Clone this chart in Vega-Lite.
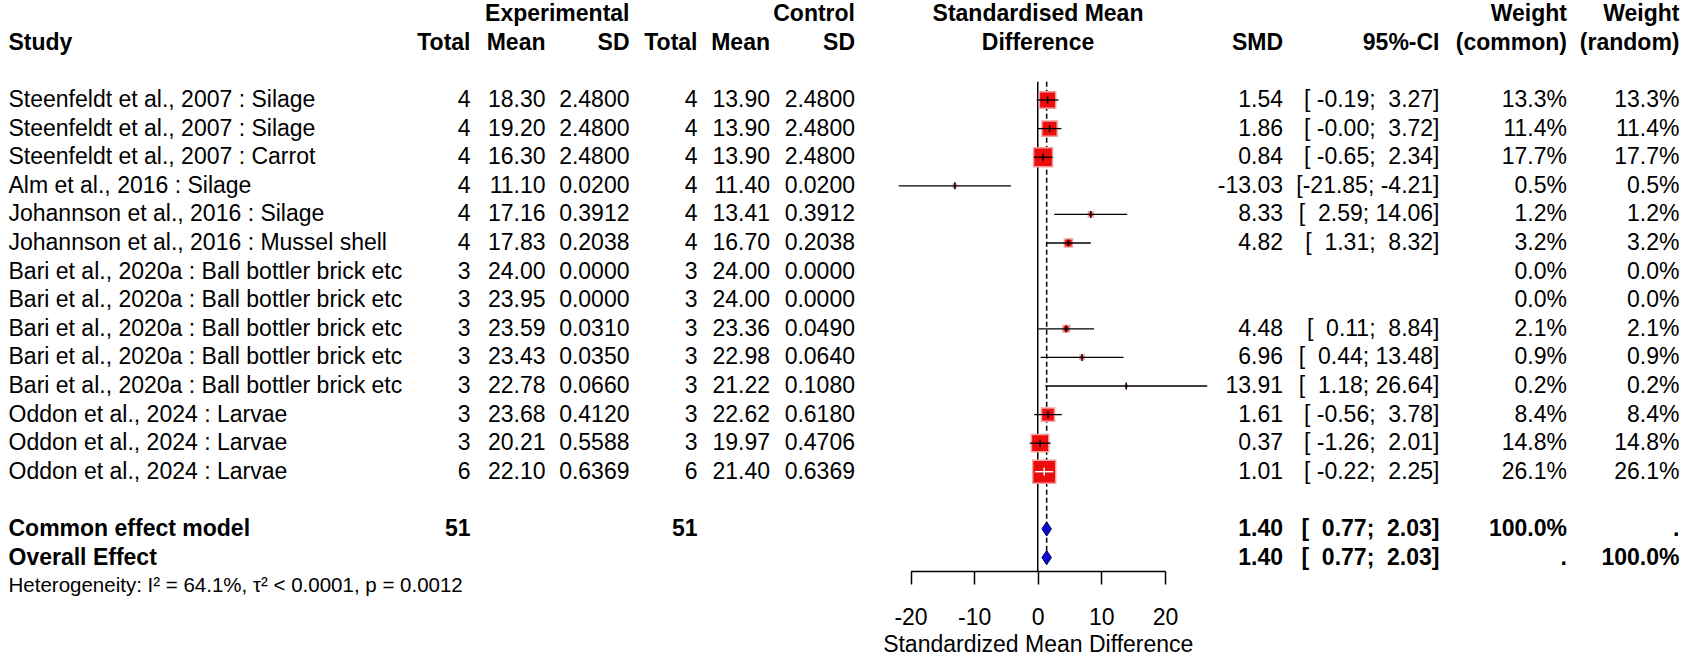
{
  "$schema": "https://vega.github.io/schema/vega-lite/v6.json",
  "width": 1686,
  "height": 656,
  "padding": 0,
  "autosize": {"type": "none"},
  "background": "white",
  "config": {
    "view": {"stroke": null},
    "font": "Liberation Sans",
    "text": {"font": "Liberation Sans", "fontSize": 23, "baseline": "middle", "color": "#000"}
  },
  "datasets": {
    "studies": [
      {"row": 1, "study": "Steenfeldt et al., 2007 : Silage", "eN": "4", "eM": "18.30", "eSD": "2.4800", "cN": "4", "cM": "13.90", "cSD": "2.4800", "smd": "1.54", "ci": "[\u00a0-0.19;\u00a0\u00a03.27]", "wcT": "13.3%", "wrT": "13.3%", "est": 1.54, "lo": -0.19, "hi": 3.27, "w": 0.133},
      {"row": 2, "study": "Steenfeldt et al., 2007 : Silage", "eN": "4", "eM": "19.20", "eSD": "2.4800", "cN": "4", "cM": "13.90", "cSD": "2.4800", "smd": "1.86", "ci": "[\u00a0-0.00;\u00a0\u00a03.72]", "wcT": "11.4%", "wrT": "11.4%", "est": 1.86, "lo": -0.0, "hi": 3.72, "w": 0.114},
      {"row": 3, "study": "Steenfeldt et al., 2007 : Carrot", "eN": "4", "eM": "16.30", "eSD": "2.4800", "cN": "4", "cM": "13.90", "cSD": "2.4800", "smd": "0.84", "ci": "[\u00a0-0.65;\u00a0\u00a02.34]", "wcT": "17.7%", "wrT": "17.7%", "est": 0.84, "lo": -0.65, "hi": 2.34, "w": 0.177},
      {"row": 4, "study": "Alm et al., 2016 : Silage", "eN": "4", "eM": "11.10", "eSD": "0.0200", "cN": "4", "cM": "11.40", "cSD": "0.0200", "smd": "-13.03", "ci": "[-21.85;\u00a0-4.21]", "wcT": "0.5%", "wrT": "0.5%", "est": -13.03, "lo": -21.85, "hi": -4.21, "w": 0.005},
      {"row": 5, "study": "Johannson et al., 2016 : Silage", "eN": "4", "eM": "17.16", "eSD": "0.3912", "cN": "4", "cM": "13.41", "cSD": "0.3912", "smd": "8.33", "ci": "[\u00a0\u00a02.59;\u00a014.06]", "wcT": "1.2%", "wrT": "1.2%", "est": 8.33, "lo": 2.59, "hi": 14.06, "w": 0.012},
      {"row": 6, "study": "Johannson et al., 2016 : Mussel shell", "eN": "4", "eM": "17.83", "eSD": "0.2038", "cN": "4", "cM": "16.70", "cSD": "0.2038", "smd": "4.82", "ci": "[\u00a0\u00a01.31;\u00a0\u00a08.32]", "wcT": "3.2%", "wrT": "3.2%", "est": 4.82, "lo": 1.31, "hi": 8.32, "w": 0.032},
      {"row": 7, "study": "Bari et al., 2020a : Ball bottler brick etc", "eN": "3", "eM": "24.00", "eSD": "0.0000", "cN": "3", "cM": "24.00", "cSD": "0.0000", "smd": "", "ci": "", "wcT": "0.0%", "wrT": "0.0%", "est": null, "lo": null, "hi": null, "w": 0},
      {"row": 8, "study": "Bari et al., 2020a : Ball bottler brick etc", "eN": "3", "eM": "23.95", "eSD": "0.0000", "cN": "3", "cM": "24.00", "cSD": "0.0000", "smd": "", "ci": "", "wcT": "0.0%", "wrT": "0.0%", "est": null, "lo": null, "hi": null, "w": 0},
      {"row": 9, "study": "Bari et al., 2020a : Ball bottler brick etc", "eN": "3", "eM": "23.59", "eSD": "0.0310", "cN": "3", "cM": "23.36", "cSD": "0.0490", "smd": "4.48", "ci": "[\u00a0\u00a00.11;\u00a0\u00a08.84]", "wcT": "2.1%", "wrT": "2.1%", "est": 4.48, "lo": 0.11, "hi": 8.84, "w": 0.021},
      {"row": 10, "study": "Bari et al., 2020a : Ball bottler brick etc", "eN": "3", "eM": "23.43", "eSD": "0.0350", "cN": "3", "cM": "22.98", "cSD": "0.0640", "smd": "6.96", "ci": "[\u00a0\u00a00.44;\u00a013.48]", "wcT": "0.9%", "wrT": "0.9%", "est": 6.96, "lo": 0.44, "hi": 13.48, "w": 0.009},
      {"row": 11, "study": "Bari et al., 2020a : Ball bottler brick etc", "eN": "3", "eM": "22.78", "eSD": "0.0660", "cN": "3", "cM": "21.22", "cSD": "0.1080", "smd": "13.91", "ci": "[\u00a0\u00a01.18;\u00a026.64]", "wcT": "0.2%", "wrT": "0.2%", "est": 13.91, "lo": 1.18, "hi": 26.64, "w": 0.002},
      {"row": 12, "study": "Oddon et al., 2024 : Larvae", "eN": "3", "eM": "23.68", "eSD": "0.4120", "cN": "3", "cM": "22.62", "cSD": "0.6180", "smd": "1.61", "ci": "[\u00a0-0.56;\u00a0\u00a03.78]", "wcT": "8.4%", "wrT": "8.4%", "est": 1.61, "lo": -0.56, "hi": 3.78, "w": 0.084},
      {"row": 13, "study": "Oddon et al., 2024 : Larvae", "eN": "3", "eM": "20.21", "eSD": "0.5588", "cN": "3", "cM": "19.97", "cSD": "0.4706", "smd": "0.37", "ci": "[\u00a0-1.26;\u00a0\u00a02.01]", "wcT": "14.8%", "wrT": "14.8%", "est": 0.37, "lo": -1.26, "hi": 2.01, "w": 0.148},
      {"row": 14, "study": "Oddon et al., 2024 : Larvae", "eN": "6", "eM": "22.10", "eSD": "0.6369", "cN": "6", "cM": "21.40", "cSD": "0.6369", "smd": "1.01", "ci": "[\u00a0-0.22;\u00a0\u00a02.25]", "wcT": "26.1%", "wrT": "26.1%", "est": 1.01, "lo": -0.22, "hi": 2.25, "w": 0.261}
    ],
    "summary": [
      {"row": 16, "study": "Common effect model", "eN": "51", "cN": "51", "smd": "1.40", "ci": "[\u00a0\u00a00.77;\u00a0\u00a02.03]", "wcT": "100.0%", "wrT": ".", "est": 1.40, "lo": 0.77, "hi": 2.03},
      {"row": 17, "study": "Overall Effect", "eN": "", "cN": "", "smd": "1.40", "ci": "[\u00a0\u00a00.77;\u00a0\u00a02.03]", "wcT": ".", "wrT": "100.0%", "est": 1.40, "lo": 0.77, "hi": 2.03}
    ],
    "columns": [
      {"key": "eN", "col": 1}, {"key": "eM", "col": 2}, {"key": "eSD", "col": 3},
      {"key": "cN", "col": 4}, {"key": "cM", "col": 5}, {"key": "cSD", "col": 6},
      {"key": "smd", "col": 8}, {"key": "ci", "col": 9}, {"key": "wcT", "col": 10}, {"key": "wrT", "col": 11}
    ],
    "headers": [
      {"row": -2, "col": 3, "label": "Experimental", "al": "right"},
      {"row": -2, "col": 6, "label": "Control", "al": "right"},
      {"row": -2, "col": 7, "label": "Standardised Mean", "al": "center"},
      {"row": -2, "col": 10, "label": "Weight", "al": "right"},
      {"row": -2, "col": 11, "label": "Weight", "al": "right"},
      {"row": -1, "col": 0, "label": "Study", "al": "left"},
      {"row": -1, "col": 1, "label": "Total", "al": "right"},
      {"row": -1, "col": 2, "label": "Mean", "al": "right"},
      {"row": -1, "col": 3, "label": "SD", "al": "right"},
      {"row": -1, "col": 4, "label": "Total", "al": "right"},
      {"row": -1, "col": 5, "label": "Mean", "al": "right"},
      {"row": -1, "col": 6, "label": "SD", "al": "right"},
      {"row": -1, "col": 7, "label": "Difference", "al": "center"},
      {"row": -1, "col": 8, "label": "SMD", "al": "right"},
      {"row": -1, "col": 9, "label": "95%-CI", "al": "right"},
      {"row": -1, "col": 10, "label": "(common)", "al": "right"},
      {"row": -1, "col": 11, "label": "(random)", "al": "right"}
    ],
    "notes": [
      {"row": 18, "label": "Heterogeneity: I² = 64.1%, τ² < 0.0001, p = 0.0012"}
    ]
  },
  "layer": [
    {
      "layer": [
        {
          "data": {"name": "headers"},
          "transform": [{"filter": "datum.al == 'left'"}],
          "mark": {"type": "text", "align": "left", "fontWeight": "bold"},
          "encoding": {
            "x": {"field": "col", "type": "quantitative", "scale": {"domain": [0,1,2,3,4,5,6,7,8,9,10,11], "range": [8.5,470.5,545.5,629.5,697.5,770,855,1038,1283,1439.5,1567,1679.5], "zero": false, "nice": false}, "axis": null},
            "y": {"field": "row", "type": "quantitative", "scale": {"domain": [-2.4965, 20.4406], "reverse": true, "zero": false, "nice": false}, "axis": null},
            "text": {"field": "label"}
          }
        },
        {
          "data": {"name": "headers"},
          "transform": [{"filter": "datum.al == 'right'"}],
          "mark": {"type": "text", "align": "right", "fontWeight": "bold"},
          "encoding": {
            "x": {"field": "col", "type": "quantitative", "axis": null},
            "y": {"field": "row", "type": "quantitative", "axis": null},
            "text": {"field": "label"}
          }
        },
        {
          "data": {"name": "headers"},
          "transform": [{"filter": "datum.al == 'center'"}],
          "mark": {"type": "text", "align": "center", "fontWeight": "bold"},
          "encoding": {
            "x": {"field": "col", "type": "quantitative", "axis": null},
            "y": {"field": "row", "type": "quantitative", "axis": null},
            "text": {"field": "label"}
          }
        },
        {
          "data": {"name": "studies"},
          "mark": {"type": "text", "align": "left"},
          "encoding": {
            "x": {"datum": 0, "type": "quantitative", "axis": null},
            "y": {"field": "row", "type": "quantitative", "axis": null},
            "text": {"field": "study"}
          }
        },
        {
          "data": {"name": "studies"},
          "transform": [
            {"fold": ["eN", "eM", "eSD", "cN", "cM", "cSD", "smd", "ci", "wcT", "wrT"]},
            {"lookup": "key", "from": {"data": {"name": "columns"}, "key": "key", "fields": ["col"]}}
          ],
          "mark": {"type": "text", "align": "right"},
          "encoding": {
            "x": {"field": "col", "type": "quantitative", "axis": null},
            "y": {"field": "row", "type": "quantitative", "axis": null},
            "text": {"field": "value"}
          }
        },
        {
          "data": {"name": "summary"},
          "mark": {"type": "text", "align": "left", "fontWeight": "bold"},
          "encoding": {
            "x": {"datum": 0, "type": "quantitative", "axis": null},
            "y": {"field": "row", "type": "quantitative", "axis": null},
            "text": {"field": "study"}
          }
        },
        {
          "data": {"name": "summary"},
          "transform": [
            {"fold": ["eN", "cN", "smd", "ci", "wcT", "wrT"]},
            {"lookup": "key", "from": {"data": {"name": "columns"}, "key": "key", "fields": ["col"]}}
          ],
          "mark": {"type": "text", "align": "right", "fontWeight": "bold"},
          "encoding": {
            "x": {"field": "col", "type": "quantitative", "axis": null},
            "y": {"field": "row", "type": "quantitative", "axis": null},
            "text": {"field": "value"}
          }
        },
        {
          "data": {"name": "notes"},
          "mark": {"type": "text", "align": "left", "font": "Liberation Sans", "fontSize": 20.5},
          "encoding": {
            "x": {"datum": 0, "type": "quantitative", "axis": null},
            "y": {"field": "row", "type": "quantitative", "axis": null},
            "text": {"field": "label"}
          }
        }
      ]
    },
    {
      "layer": [
        {
          "data": {"values": [{}]},
          "mark": {"type": "rule", "strokeWidth": 1.5, "color": "#000"},
          "encoding": {
            "x": {"datum": 0, "type": "quantitative",
              "scale": {"domain": [-20, 20], "range": [910.5, 1165], "zero": false, "nice": false},
              "axis": {
                "orient": "bottom", "values": [-20, -10, 0, 10, 20], "offset": -85,
                "tickSize": 13, "tickWidth": 1.5, "tickColor": "#000",
                "domainColor": "#000", "domainWidth": 1.5, "grid": false,
                "labelFont": "Liberation Sans", "labelFontSize": 23, "labelColor": "#000", "labelPadding": 22,
                "labelExpr": "datum.value < 0 ? '-' + abs(datum.value) : '' + datum.value",
                "labelFlush": false, "labelOverlap": false,
                "title": "Standardized Mean Difference", "titleFont": "Liberation Sans", "titleFontSize": 23,
                "titleFontWeight": "normal", "titleColor": "#000", "titlePadding": 4
              }
            },
            "y": {"datum": 0.36, "type": "quantitative", "axis": null},
            "y2": {"datum": 17.47}
          }
        },
        {
          "data": {"name": "summary"},
          "transform": [{"filter": "datum.row == 16"}],
          "mark": {"type": "rule", "strokeWidth": 1.5, "color": "#000", "strokeDash": [5, 3]},
          "encoding": {
            "x": {"field": "est", "type": "quantitative"},
            "y": {"datum": 0.36, "type": "quantitative", "axis": null},
            "y2": {"datum": 17.2}
          }
        },
        {
          "data": {"name": "studies"},
          "transform": [{"filter": "isValid(datum.est)"}],
          "mark": {"type": "point", "shape": "square", "filled": true, "fill": "#ec0c0c", "stroke": "#f3a0a0", "strokeWidth": 1.5, "opacity": 1},
          "encoding": {
            "x": {"field": "est", "type": "quantitative"},
            "y": {"field": "row", "type": "quantitative", "axis": null},
            "size": {"field": "w", "type": "quantitative", "scale": {"type": "linear", "domain": [0, 0.261], "range": [0, 530], "zero": true}, "legend": null}
          }
        },
        {
          "data": {"name": "studies"},
          "transform": [{"filter": "isValid(datum.est)"}],
          "mark": {"type": "rule", "strokeWidth": 1.3, "color": "#000"},
          "encoding": {
            "x": {"field": "lo", "type": "quantitative"},
            "x2": {"field": "hi"},
            "y": {"field": "row", "type": "quantitative", "axis": null}
          }
        },
        {
          "data": {"name": "studies"},
          "transform": [{"filter": "isValid(datum.est)"}],
          "mark": {"type": "point", "shape": "M0,-1V1", "filled": false, "stroke": "#000", "strokeWidth": 1.5, "size": 49, "opacity": 1},
          "encoding": {
            "x": {"field": "est", "type": "quantitative"},
            "y": {"field": "row", "type": "quantitative", "axis": null}
          }
        },
        {
          "data": {"name": "studies"},
          "transform": [{"filter": "datum.w > 0.25"}],
          "mark": {"type": "point", "shape": "M-1,0H1M0,-0.45V0.45", "filled": false, "stroke": "#ffffff", "strokeWidth": 1.6, "size": 324, "opacity": 1},
          "encoding": {
            "x": {"field": "est", "type": "quantitative"},
            "y": {"field": "row", "type": "quantitative", "axis": null}
          }
        },
        {
          "data": {"name": "summary"},
          "mark": {"type": "point", "shape": "M-1,0L0,-1.5L1,0L0,1.5Z", "filled": true, "fill": "#0a0ad0", "stroke": "#00005a", "strokeWidth": 1, "size": 90, "opacity": 1},
          "encoding": {
            "x": {"field": "est", "type": "quantitative"},
            "y": {"field": "row", "type": "quantitative", "axis": null}
          }
        }
      ]
    }
  ],
  "resolve": {"scale": {"x": "independent"}}
}
